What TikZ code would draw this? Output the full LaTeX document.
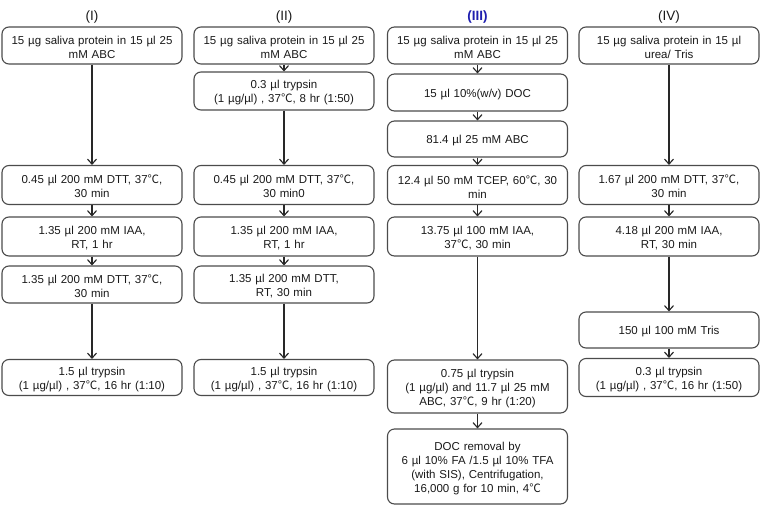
\documentclass[tikz,border=0pt]{standalone}
\usepackage{fontspec}
\setmainfont{Liberation Sans}
\newfontfamily\cjk{Noto Sans CJK SC}
\usetikzlibrary{arrows.meta}
\newcommand{\dgc}{{\cjk ℃}}
\definecolor{ttlblue}{RGB}{30,30,175}
\definecolor{boxline}{RGB}{75,75,75}
\definecolor{arrline}{RGB}{40,40,40}
\definecolor{txt}{RGB}{25,25,25}
\begin{document}
\begin{tikzpicture}[x=1pt,y=-1pt,
  box/.style={draw=boxline, line width=1.1pt, rounded corners=7pt, align=center,
    font=\fontsize{11.5}{14}\selectfont, text=txt, inner sep=0pt,
    text width=176pt, minimum width=180pt,
    execute at begin node={\rule{0pt}{12pt}}},
  arr/.style={draw=arrline, line width=1.15pt, -{Straight Barb[length=5pt,width=9pt]}},
  ttl/.style={font=\fontsize{13.5}{16}\selectfont, text=txt}]
\path[use as bounding box] (0,0) rectangle (760,506);

% titles
\node[ttl] (t1) at (92,17) {(I)};
\node[ttl] (t2) at (284,17) {(II)};
\node[ttl, text=ttlblue, font=\fontsize{13.5}{16}\selectfont\bfseries] (t3) at (477.5,17) {(III)};
\node[ttl] (t4) at (669,17) {(IV)};

% column I
\node[box, minimum height=37pt] (a1) at (92,45.5) {15 µg saliva protein in 15 µl 25\\mM ABC};
\node[box, minimum height=39pt] (a2) at (92,185) {0.45 µl 200 mM DTT, 37\dgc,\\30 min};
\node[box, minimum height=39pt] (a3) at (92,236.5) {1.35 µl 200 mM IAA,\\RT, 1 hr};
\node[box, minimum height=37pt] (a4) at (92,284.5) {1.35 µl 200 mM DTT, 37\dgc,\\30 min};
\node[box, minimum height=36pt] (a5) at (92,377.5) {1.5 µl trypsin\\(1 µg/µl) , 37\dgc, 16 hr (1:10)};
\draw[arr] (a1) -- (a2);
\draw[arr] (a2) -- (a3);
\draw[arr] (a3) -- (a4);
\draw[arr] (a4) -- (a5);

% column II
\node[box, minimum height=37pt] (b1) at (284,45.5) {15 µg saliva protein in 15 µl 25\\mM ABC};
\node[box, minimum height=38pt] (b2) at (284,91) {0.3 µl trypsin\\(1 µg/µl) , 37\dgc, 8 hr (1:50)};
\node[box, minimum height=39pt] (b3) at (284,185) {0.45 µl 200 mM DTT, 37\dgc,\\30 min0};
\node[box, minimum height=39pt] (b4) at (284,236.5) {1.35 µl 200 mM IAA,\\RT, 1 hr};
\node[box, minimum height=37pt] (b5) at (284,284.5) {1.35 µl 200 mM DTT,\\RT, 30 min};
\node[box, minimum height=36pt] (b6) at (284,377.5) {1.5 µl trypsin\\(1 µg/µl) , 37\dgc, 16 hr (1:10)};
\draw[arr] (b1) -- (b2);
\draw[arr] (b2) -- (b3);
\draw[arr] (b3) -- (b4);
\draw[arr] (b4) -- (b5);
\draw[arr] (b5) -- (b6);

% column III
\node[box, minimum height=37pt] (c1) at (477.5,45.5) {15 µg saliva protein in 15 µl 25\\mM ABC};
\node[box, minimum height=37pt] (c2) at (477.5,92.5) {15 µl 10\%(w/v) DOC};
\node[box, minimum height=36pt] (c3) at (477.5,139) {81.4 µl 25 mM ABC};
\node[box, minimum height=39pt] (c4) at (477.5,185) {12.4 µl 50 mM TCEP, 60\dgc, 30\\min};
\node[box, minimum height=39pt] (c5) at (477.5,236.5) {13.75 µl 100 mM IAA,\\37\dgc, 30 min};
\node[box, minimum height=53pt] (c6) at (477.5,386.5) {0.75 µl trypsin\\(1 µg/µl) and 11.7 µl 25 mM\\ABC, 37\dgc, 9 hr (1:20)};
\node[box, minimum height=75pt] (c7) at (477.5,466.5) {DOC removal by\\6 µl 10\% FA /1.5 µl 10\% TFA\\(with SIS), Centrifugation,\\16,000 g for 10 min, 4\dgc};
\draw[arr] (c1) -- (c2);
\draw[arr] (c2) -- (c3);
\draw[arr] (c3) -- (c4);
\draw[arr] (c4) -- (c5);
\draw[arr] (c5) -- (c6);
\draw[arr] (c6) -- (c7);

% column IV
\node[box, minimum height=37pt] (d1) at (669,45.5) {15 µg saliva protein in 15 µl\\urea/ Tris};
\node[box, minimum height=39pt] (d2) at (669,185) {1.67 µl 200 mM DTT, 37\dgc,\\30 min};
\node[box, minimum height=39pt] (d3) at (669,236.5) {4.18 µl 200 mM IAA,\\RT, 30 min};
\node[box, minimum height=36pt] (d4) at (669,330) {150 µl 100 mM Tris};
\node[box, minimum height=38pt] (d5) at (669,377.5) {0.3 µl trypsin\\(1 µg/µl) , 37\dgc, 16 hr (1:50)};
\draw[arr] (d1) -- (d2);
\draw[arr] (d2) -- (d3);
\draw[arr] (d3) -- (d4);
\draw[arr] (d4) -- (d5);
\end{tikzpicture}
\end{document}
